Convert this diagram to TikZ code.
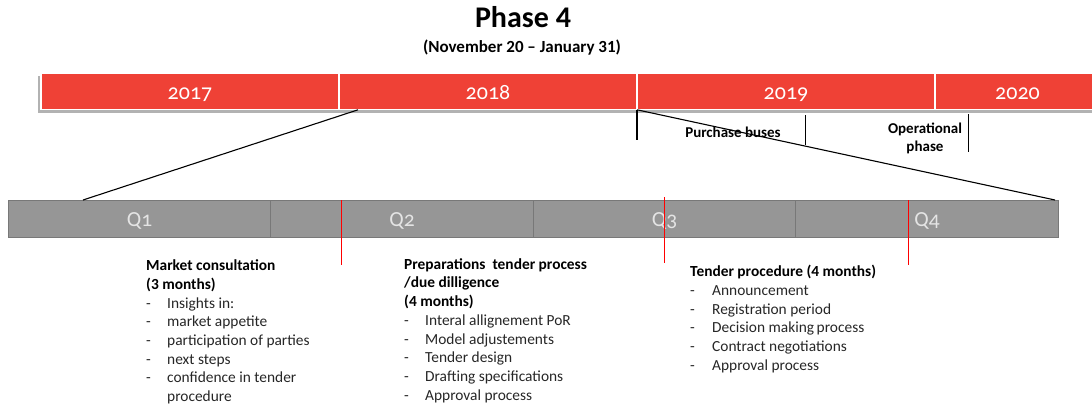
\documentclass[tikz,border=0pt]{standalone}
\usepackage{fontspec}
\setmainfont{Carlito}
\newfontfamily\barfont{Carlito}[Numbers=OldStyle]
\usepackage{array}
\definecolor{barred}{RGB}{239,65,54}
\definecolor{qgray}{RGB}{150,150,150}
\definecolor{qedge}{RGB}{120,120,120}
\definecolor{qtext}{RGB}{228,228,228}
\definecolor{bodytext}{RGB}{38,38,38}
\begin{document}
\begin{tikzpicture}[x=1pt,y=-1pt,
  yearbox/.style={fill=barred,draw=white,line width=1.2pt,minimum height=36pt,inner sep=0pt,
     text=white,font=\barfont\fontsize{22}{26}\selectfont,text height=16.4pt,text depth=0pt},
  qbox/.style={fill=qgray,draw=qedge,line width=0.8pt,minimum height=37.7pt,inner sep=0pt,
     text=qtext,font=\barfont\fontsize{21.5}{25}\selectfont,text height=15.6pt,text depth=0pt},
  zoomline/.style={black,line width=1.1pt},
  tick/.style={black,line width=1.1pt},
  redtick/.style={red,line width=1pt},
  phaselabel/.style={font=\bfseries\fontsize{15}{18}\selectfont,align=center,inner sep=0pt},
  block/.style={anchor=north west,inner sep=0pt,text=bodytext,font=\fontsize{15.4}{18.7}\selectfont}
]
\useasboundingbox (0,0) rectangle (1092,407);
\clip (0,0) rectangle (1092,407);

% title
\node[font=\bfseries\fontsize{30}{36}\selectfont,inner sep=0pt,anchor=base] (title) at (523,27.3) {Phase 4};
\node[font=\bfseries\fontsize{17}{20}\selectfont,inner sep=0pt,anchor=base] (subtitle) at (522,52.3) {(November 20 -- January 31)};

% shadow of the year bar
\fill[black!30] (38,75.5) rectangle (1100,113);
% year bar
\node[yearbox,minimum width=298pt] (y2017) at (190,91.3) {2017};
\node[yearbox,minimum width=298pt] (y2018) at (488,91.3) {2018};
\node[yearbox,minimum width=298pt] (y2019) at (786,91.3) {2019};
\node[yearbox,minimum width=165pt] (y2020) at (1017.5,91.3) {2020};

% quarter bar
\node[qbox,minimum width=262.5pt] (q1) at (139.5,218.9) {Q1};
\node[qbox,minimum width=262.5pt] (q2) at (402,218.9) {Q2};
\node[qbox,minimum width=262.5pt] (q3) at (664.5,218.9) {Q3};
\node[qbox,minimum width=262.5pt] (q4) at (927,218.9) {Q4};

% zoom connectors
\coordinate (za) at (358,109.8);
\coordinate (zb) at (83,200);
\coordinate (zc) at (637,109.8);
\coordinate (zd) at (1055,200);
\draw[zoomline] (za) -- (zb);
\draw[zoomline] (zc) -- (zd);

% ticks below the year bar
\coordinate (t1a) at (637,109.8); \coordinate (t1b) at (637,140);
\coordinate (t2a) at (805.5,115);   \coordinate (t2b) at (805.5,145);
\coordinate (t3a) at (968.5,114);   \coordinate (t3b) at (968.5,152);
\draw[tick] (t1a) -- (t1b);
\draw[tick] (t2a) -- (t2b);
\draw[tick] (t3a) -- (t3b);
\node[phaselabel] (purchase) at (733,132.5) {Purchase buses};
\node[phaselabel] (operational) at (925,138) {Operational\\[0pt]phase};

% red markers
\coordinate (r1a) at (341.5,200); \coordinate (r1b) at (341.5,265);
\coordinate (r2a) at (664.5,197); \coordinate (r2b) at (664.5,263);
\coordinate (r3a) at (908,200);   \coordinate (r3b) at (908,265);
\draw[redtick] (r1a) -- (r1b);
\draw[redtick] (r2a) -- (r2b);
\draw[redtick] (r3a) -- (r3b);

% text blocks
\renewcommand{\arraystretch}{1}
\node[block] (market) at (146,257.5) {%
\begin{tabular}{@{}p{21pt}@{}l@{}}
\multicolumn{2}{@{}l@{}}{\bfseries\color{black}Market consultation}\\
\multicolumn{2}{@{}l@{}}{\bfseries\color{black}(3 months)}\\
- & Insights in:\\
- & market appetite\\
- & participation of parties\\
- & next steps\\
- & confidence in tender\\
 & procedure
\end{tabular}};

\node[block] (prep) at (404,256) {%
\begin{tabular}{@{}p{21pt}@{}l@{}}
\multicolumn{2}{@{}l@{}}{\bfseries\color{black}Preparations\ \ tender process}\\
\multicolumn{2}{@{}l@{}}{\bfseries\color{black}/due dilligence}\\
\multicolumn{2}{@{}l@{}}{\bfseries\color{black}(4 months)}\\
- & Interal allignement PoR\\
- & Model adjustements\\
- & Tender design\\
- & Drafting specifications\\
- & Approval process
\end{tabular}};

\node[block] (tender) at (690,263.5) {%
\begin{tabular}{@{}p{22pt}@{}l@{}}
\multicolumn{2}{@{}l@{}}{\bfseries\color{black}Tender procedure (4 months)}\\
- & Announcement\\
- & Registration period\\
- & Decision making\,process\\
- & Contract negotiations\\
- & Approval process
\end{tabular}};
\end{tikzpicture}
\end{document}
